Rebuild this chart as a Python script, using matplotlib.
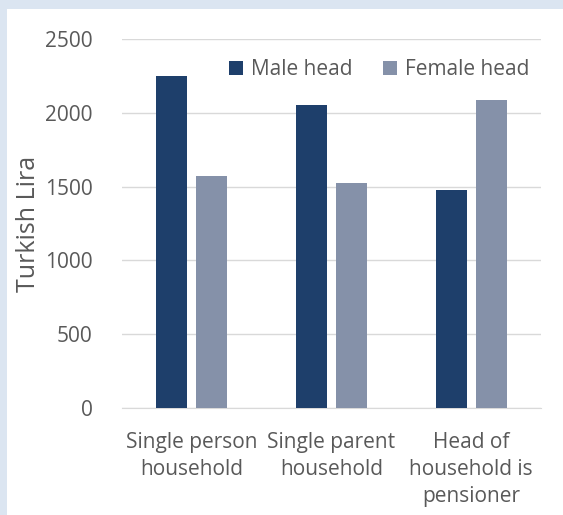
import numpy as np
import matplotlib.pyplot as plt
from matplotlib.patches import Rectangle

# Data
categories = ['Single person\nhousehold', 'Single parent\nhousehold', 'Head of\nhousehold is\npensioner']
male_head = [2250, 2050, 1480]
female_head = [1570, 1525, 2090]
series_names = ['Male head', 'Female head']
yticks = [0, 500, 1000, 1500, 2000, 2500]

MALE_COLOR = '#1e3f6b'
FEMALE_COLOR = '#8591a9'
TEXT_COLOR = '#595959'

plt.rcParams['font.family'] = ['Open Sans', 'DejaVu Sans']

fig = plt.figure(figsize=(5.63, 5.15), dpi=100)
fig.patch.set_facecolor('#dbe5f1')

# white inner panel (kept behind the axes)
fig.patches.append(Rectangle((7 / 563, 0), 1, 1 - 9 / 515, transform=fig.transFigure,
                             facecolor='white', edgecolor='none', zorder=-10))

ax = fig.add_axes([122 / 563, 1 - 408 / 515, 419 / 563, 369 / 515])
ax.set_facecolor('none')
ax.set_zorder(5)

x = np.arange(len(categories))
w = 0.222
off = 0.143
ax.bar(x - off, male_head, w, color=MALE_COLOR, label=series_names[0], zorder=3)
ax.bar(x + off, female_head, w, color=FEMALE_COLOR, label=series_names[1], zorder=3)

ax.set_xlim(-0.5, len(categories) - 0.5)
ax.set_ylim(0, 2500)
ax.set_yticks(yticks)
ax.set_yticklabels([str(v) for v in yticks], fontsize=15, color=TEXT_COLOR)
ax.set_xticks(x)
ax.set_xticklabels(categories, fontsize=15, color=TEXT_COLOR, linespacing=1.38)
ax.tick_params(axis='both', length=0)
ax.tick_params(axis='y', pad=21)
ax.tick_params(axis='x', pad=17)

ax.grid(axis='y', color='#d9d9d9', linewidth=1, zorder=0)
ax.set_axisbelow(True)
for s in ['top', 'right', 'left']:
    ax.spines[s].set_visible(False)
ax.spines['bottom'].set_color('#d9d9d9')

ax.set_ylabel('Turkish Lira', fontsize=18, color=TEXT_COLOR, labelpad=3)

leg = ax.legend(loc='upper right', bbox_to_anchor=(0.972, 0.946), ncol=2, frameon=False,
                fontsize=15, handlelength=0.65, handleheight=0.65, handletextpad=0.4,
                columnspacing=1.45, borderaxespad=0, borderpad=0)
for t in leg.get_texts():
    t.set_color(TEXT_COLOR)

fig.savefig('out.png', dpi=100, facecolor=fig.get_facecolor())
